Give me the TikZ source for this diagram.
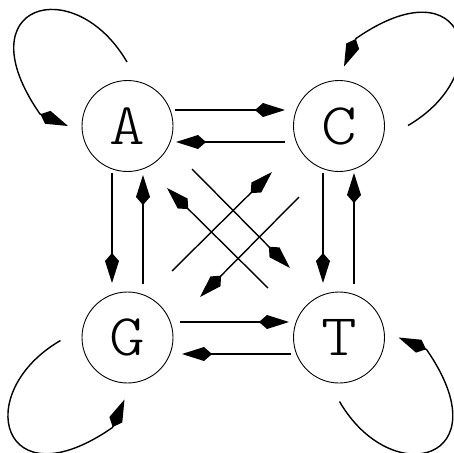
\documentclass[tikz,border=0pt]{standalone}
\usepackage{fontspec}
\setmonofont[FakeStretch=1.15]{lmmonolt10-regular.otf}
\usetikzlibrary{calc}
\usetikzlibrary{arrows.meta}

\begin{document}
\begin{tikzpicture}[x=1pt,y=-1pt,
	nuc/.style={draw,circle,line width=0.9pt,minimum size=91pt,inner sep=0pt,font=\ttfamily\fontsize{59}{59}\selectfont},
	conn/.style={-{Kite[length=30pt,width=14pt,inset=8pt]},line width=1.4pt}]
		\useasboundingbox (0,0) rectangle (453,453);
		\node[nuc] (A) at (127.5,126){A};
		\node[nuc] (C) at (339,126){C};
		\node[nuc] (G) at (127.5,337.5){G};
		\node[nuc] (T) at (339,337.5){T};
		% rows and columns
		\draw 	($(A)+(47.5,-16)$) edge[conn] ($(C)+(-54,-16)$)
		($(C)+(-54,16)$) edge[conn] ($(A)+(48.5,16)$)
		($(G)+(52.5,-15.5)$) edge[conn] ($(T)+(-50,-15.5)$)
		($(T)+(-48,16.5)$) edge[conn] ($(G)+(54.5,16.5)$)
		($(A)+(-15.5,47)$) edge[conn] ($(G)+(-15.5,-54.5)$)
		($(G)+(15.5,-53.5)$) edge[conn] ($(A)+(15.5,49)$)
		($(C)+(-16,47)$) edge[conn] ($(T)+(-16,-54.5)$)
		($(T)+(15,-53.5)$) edge[conn] ($(C)+(15,47)$);
		% diagonals
		\draw 	($(A)+(64.5,43)$) edge[conn] ($(T)+(-49,-69.5)$)
		($(T)+(-71,-49.5)$) edge[conn] ($(A)+(39.5,62)$)
		($(G)+(44.5,-66.5)$) edge[conn] ($(C)+(-67,46)$)
		($(C)+(-40,71)$) edge[conn] ($(G)+(72.5,-40.5)$);
		% self loops
		\foreach \n/\r/\dx/\dy in {A/0/0/0,C/-90/5/0,G/90/-3/2.5,T/180/0/0}
		\draw[conn,shift={($(\n)+(\dx,\dy)$)},rotate=\r] (-0.5,-64) .. controls (-53,-154.3) and (-164.5,-122.7) .. (-87.5,-12) -- (-59.5,0);
	\end{tikzpicture}
\end{document}
